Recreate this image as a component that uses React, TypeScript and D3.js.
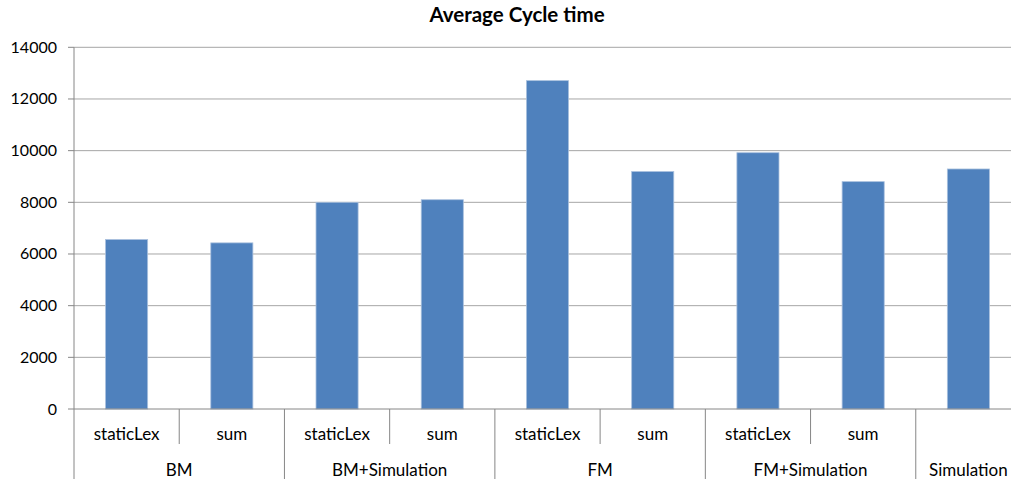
import React from "react";
import * as d3 from "d3";

const subLabels = ["staticLex", "sum", "staticLex", "sum", "staticLex", "sum", "staticLex", "sum", ""];
const groupLabels = ["BM", "BM", "BM+Simulation", "BM+Simulation", "FM", "FM", "FM+Simulation", "FM+Simulation", "Simulation"];
const values = [6560, 6430, 8000, 8100, 12710, 9190, 9920, 8800, 9290];
const yTicks = [0, 2000, 4000, 6000, 8000, 10000, 12000, 14000];
const title = "Average Cycle time";

const W = 1011, H = 479;
const left = 74, right = 1021, top = 47.3, bottom = 409;
const FONT = "Lato, 'Open Sans', sans-serif";

export default function App() {
  const idx = values.map((_, i) => String(i));
  const x = d3.scaleBand<string>().domain(idx).range([left, right]).paddingInner(0.6).paddingOuter(0.3);
  const slot = d3.scaleBand<string>().domain(idx).range([left, right]).padding(0);
  const y = d3.scaleLinear().domain([0, 14000]).range([bottom, top]);

  const groups: { name: string; start: number; end: number }[] = [];
  groupLabels.forEach((g, i) => {
    const last = groups[groups.length - 1];
    if (last && last.name === g) last.end = i;
    else groups.push({ name: g, start: i, end: i });
  });
  const step = slot.step();
  const axisColor = "#868686";
  const gridColor = "#a6a6a6";

  return (
    <div style={{ position: "absolute", left: 0, top: 0 }}>
      <svg width={W} height={H} style={{ display: "block", background: "#fff" }}>
        <text x={517} y={22} textAnchor="middle" fontFamily={FONT} fontWeight="bold" fontSize={20.5} fill="#000">{title}</text>
        {yTicks.map((t) => (
          <g key={t}>
            {t > 0 && <line x1={left} x2={right} y1={y(t)} y2={y(t)} stroke={gridColor} strokeWidth={1} />}
            <line x1={left - 6} x2={left} y1={y(t)} y2={y(t)} stroke={axisColor} strokeWidth={1} />
            <text x={57} y={y(t) + 5.5} textAnchor="end" fontFamily={FONT} fontSize={16} fill="#000">{t}</text>
          </g>
        ))}
        {values.map((v, i) => (
          <rect key={i} x={x(String(i))} y={y(v)} width={x.bandwidth()} height={y(0) - y(v)} fill="#4f81bd" stroke="#a9c0de" strokeWidth={0.8} />
        ))}
        <line x1={left} x2={left} y1={top} y2={H} stroke={axisColor} strokeWidth={1} />
        <line x1={left} x2={right} y1={bottom} y2={bottom} stroke={axisColor} strokeWidth={1} />
        {subLabels.map((s, i) => {
          const cx = (slot(String(i)) as number) + step / 2;
          return (
            <text key={"s" + i} x={cx} y={439.5} textAnchor="middle" fontFamily={FONT} fontSize={17} fill="#000">{s}</text>
          );
        })}
        {subLabels.map((_, i) => {
          if (i === 0) return null;
          const isGroupEdge = groupLabels[i] !== groupLabels[i - 1];
          const xx = slot(String(i)) as number;
          return <line key={"d" + i} x1={xx} x2={xx} y1={bottom} y2={isGroupEdge ? H : 444} stroke={axisColor} strokeWidth={1} />;
        })}
        <line x1={right} x2={right} y1={bottom} y2={H} stroke={axisColor} strokeWidth={1} />
        {groups.map((g) => {
          const x0 = slot(String(g.start)) as number;
          const x1 = (slot(String(g.end)) as number) + step;
          return (
            <text key={g.name} x={(x0 + x1) / 2} y={475.5} textAnchor="middle" fontFamily={FONT} fontSize={17} fill="#000">{g.name}</text>
          );
        })}
      </svg>
    </div>
  );
}
